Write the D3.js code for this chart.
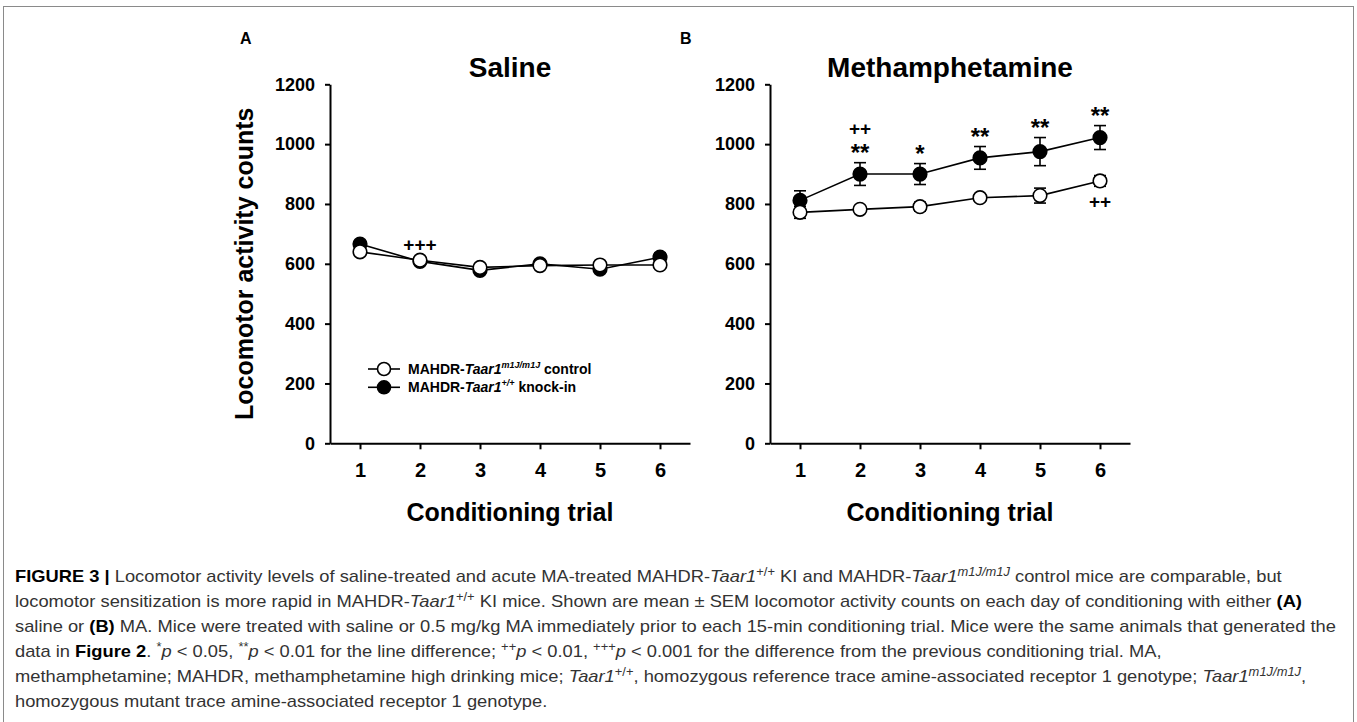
<!DOCTYPE html>
<html>
<head>
<meta charset="utf-8">
<script src="https://cdn.jsdelivr.net/npm/d3@7"></script>
<style>
  body { margin: 0; background: #fff; }
  svg { display: block; }
  text { font-family: Arial, "Liberation Sans", Helvetica, sans-serif; }
</style>
</head>
<body>
<div id="chart"></div>
<script>
// ---- data ----
const trials = [1, 2, 3, 4, 5, 6];
const yTicks = [0, 200, 400, 600, 800, 1000, 1200];

const salineControl = [640, 612, 588, 594, 596, 596];
const salineControlSem = [10, 8, 8, 8, 8, 8];
const salineKI = [666, 608, 578, 600, 582, 622];
const salineKISem = [8, 8, 10, 12, 10, 14];

const maControl = [772, 782, 791, 821, 828, 877];
const maControlSem = [20, 10, 15, 12, 25, 18];
const maKI = [812, 900, 900, 954, 975, 1022];
const maKISem = [32, 38, 35, 38, 47, 40];

// significance marks (stacked top to bottom) above the upper series, below the lower series
const salineMarksAbove = [[], ["+++"], [], [], [], []];
const salineMarksBelow = [[], [], [], [], [], []];
const maMarksAbove = [[], ["++", "**"], ["*"], ["**"], ["**"], ["**"]];
const maMarksBelow = [[], [], [], [], [], ["++"]];

const W = 1357, H = 722;
const svg = d3.select("#chart").append("svg")
    .attr("width", W)
    .attr("height", H);

svg.append("rect").attr("width", W).attr("height", H).attr("fill", "#fff");
// outer frame
svg.append("rect")
    .attr("x", 3.5).attr("y", 6.5)
    .attr("width", 1350).attr("height", 800)
    .attr("fill", "none").attr("stroke", "#8a8a8a").attr("stroke-width", 1);

const plotTop = 84.3, plotBottom = 443.3, plotW = 360;

const panels = [
    { left: 330, letter: "A", title: "Saline", ctrl: salineControl, ctrlSem: salineControlSem,
      ki: salineKI, kiSem: salineKISem, above: salineMarksAbove, below: salineMarksBelow, legend: true, yTitle: true },
    { left: 770, letter: "B", title: "Methamphetamine", ctrl: maControl, ctrlSem: maControlSem,
      ki: maKI, kiSem: maKISem, above: maMarksAbove, below: maMarksBelow, legend: false, yTitle: false }
];

const y = d3.scaleLinear().domain([0, 1200]).range([plotBottom, plotTop]);

panels.forEach(p => {
    const x = d3.scaleLinear().domain([0.5, 6.5]).range([p.left, p.left + plotW]);
    const g = svg.append("g");

    // panel letter
    g.append("text")
        .attr("x", p.left - 90).attr("y", 44)
        .style("font-size", "16px").style("font-weight", "bold")
        .text(p.letter);

    // title
    g.append("text")
        .attr("x", p.left + plotW / 2).attr("y", 77)
        .attr("text-anchor", "middle")
        .style("font-size", "28px").style("font-weight", "bold")
        .text(p.title);

    // y axis
    const ya = g.append("g")
        .attr("transform", `translate(${p.left},0)`)
        .call(d3.axisLeft(y).tickValues(yTicks).tickFormat(d3.format("d"))
            .tickSize(5).tickPadding(10).tickSizeOuter(0));
    ya.selectAll("text")
        .style("font-size", "18px").style("font-weight", "bold").attr("fill", "#000");
    ya.attr("font-family", null).attr("font-size", null);

    // x axis
    const xa = g.append("g")
        .attr("transform", `translate(0,${plotBottom})`)
        .call(d3.axisBottom(x).tickValues(trials).tickFormat(d3.format("d"))
            .tickSize(6).tickPadding(14).tickSizeOuter(0));
    xa.selectAll("text")
        .style("font-size", "20px").style("font-weight", "bold").attr("fill", "#000");
    xa.attr("font-family", null).attr("font-size", null);

    [ya, xa].forEach(a => {
        a.select(".domain").attr("stroke", "#000").attr("stroke-width", 2);
        a.selectAll(".tick line").attr("stroke", "#000").attr("stroke-width", 2);
    });

    // x title
    g.append("text")
        .attr("x", p.left + plotW / 2).attr("y", 521)
        .attr("text-anchor", "middle")
        .style("font-size", "25px").style("font-weight", "bold")
        .text("Conditioning trial");

    if (p.yTitle) {
        g.append("text")
            .attr("transform", `translate(253,${(plotTop + plotBottom) / 2}) rotate(-90)`)
            .attr("text-anchor", "middle")
            .style("font-size", "25px").style("font-weight", "bold")
            .text("Locomotor activity counts");
    }

    const line = d3.line().x((d, i) => x(trials[i])).y(d => y(d));

    const series = [
        { vals: p.ki, sem: p.kiSem, fill: "#000" },
        { vals: p.ctrl, sem: p.ctrlSem, fill: "#fff" }
    ];

    // lines
    series.forEach(s => {
        g.append("path")
            .datum(s.vals)
            .attr("d", line)
            .attr("fill", "none")
            .attr("stroke", "#000")
            .attr("stroke-width", 1.6);
    });

    // error bars + markers
    series.forEach(s => {
        const eb = g.append("g");
        s.vals.forEach((v, i) => {
            const cx = x(trials[i]);
            const lo = y(v - s.sem[i]), hi = y(v + s.sem[i]);
            eb.append("line").attr("x1", cx).attr("x2", cx).attr("y1", lo).attr("y2", hi)
                .attr("stroke", "#000").attr("stroke-width", 1.6);
            [lo, hi].forEach(yy => eb.append("line")
                .attr("x1", cx - 6).attr("x2", cx + 6).attr("y1", yy).attr("y2", yy)
                .attr("stroke", "#000").attr("stroke-width", 1.6));
        });
        g.append("g").selectAll("circle")
            .data(s.vals)
            .enter()
            .append("circle")
            .attr("cx", (d, i) => x(trials[i]))
            .attr("cy", d => y(d))
            .attr("r", 6.8)
            .attr("fill", s.fill)
            .attr("stroke", "#000")
            .attr("stroke-width", 1.6);
    });

    // significance marks
    const markG = g.append("g").style("font-weight", "bold");
    trials.forEach((t, i) => {
        const cx = x(t);
        const tops = [p.ki[i] + p.kiSem[i], p.ctrl[i] + p.ctrlSem[i]];
        const bots = [p.ki[i] - p.kiSem[i], p.ctrl[i] - p.ctrlSem[i]];
        let cursor = y(d3.max(tops)) - 15;   // visual centre of the lowest mark above
        p.above[i].slice().reverse().forEach(m => {
            const isStar = m.includes("*");
            const fs = isStar ? 24 : 19;
            const off = isStar ? 0.57 * fs : 0.41 * fs;
            markG.append("text")
                .attr("x", cx).attr("y", cursor + off)
                .attr("text-anchor", "middle")
                .style("font-size", fs + "px")
                .text(m);
            cursor -= 20;
        });
        let cur2 = y(d3.min(bots)) + 14;
        p.below[i].forEach(m => {
            const fs = 19;
            markG.append("text")
                .attr("x", cx).attr("y", cur2 + 0.41 * fs)
                .attr("text-anchor", "middle")
                .style("font-size", fs + "px")
                .text(m);
            cur2 += 20;
        });
    });

    if (p.legend) {
        const lg = g.append("g").attr("transform", "translate(368,0)");
        const items = [
            { fill: "#fff", sup: "m1J/m1J", rest: " control", y: 369 },
            { fill: "#000", sup: "+/+", rest: " knock-in", y: 387.3 }
        ];
        items.forEach(it => {
            lg.append("line").attr("x1", 0).attr("x2", 32).attr("y1", it.y).attr("y2", it.y)
                .attr("stroke", "#000").attr("stroke-width", 1.6);
            lg.append("circle").attr("cx", 16).attr("cy", it.y).attr("r", 6.5)
                .attr("fill", it.fill).attr("stroke", "#000").attr("stroke-width", 1.6);
            const t = lg.append("text").attr("x", 40).attr("y", it.y + 5)
                .style("font-size", "14px").style("font-weight", "bold");
            t.append("tspan").text("MAHDR-");
            t.append("tspan").style("font-style", "italic").text("Taar1");
            t.append("tspan").attr("dy", -6).style("font-size", "9px").style("font-style", "italic").text(it.sup);
            t.append("tspan").attr("dy", 6).text(it.rest);
        });
    }
});

// ---- caption ----
const captionLines = [
    [["FIGURE 3 |", "b"], [" Locomotor activity levels of saline-treated and acute MA-treated MAHDR-", ""], ["Taar1", "i"], ["+/+", "sup"],
     [" KI and MAHDR-", ""], ["Taar1", "i"], ["m1J/m1J", "supi"], [" control mice are comparable, but", ""]],
    [["locomotor sensitization is more rapid in MAHDR-", ""], ["Taar1", "i"], ["+/+", "sup"],
     [" KI mice. Shown are mean \u00b1 SEM locomotor activity counts on each day of conditioning with either ", ""], ["(A)", "b"]],
    [["saline or ", ""], ["(B)", "b"], [" MA. Mice were treated with saline or 0.5 mg/kg MA immediately prior to each 15-min conditioning trial. Mice were the same animals that generated the", ""]],
    [["data in ", ""], ["Figure 2", "b"], [". ", ""], ["*", "sup"], ["p", "i"], [" < 0.05, ", ""], ["**", "sup"], ["p", "i"], [" < 0.01 for the line difference; ", ""],
     ["++", "sup"], ["p", "i"], [" < 0.01, ", ""], ["+++", "sup"], ["p", "i"], [" < 0.001 for the difference from the previous conditioning trial. MA,", ""]],
    [["methamphetamine; MAHDR, methamphetamine high drinking mice; ", ""], ["Taar1", "i"], ["+/+", "sup"],
     [", homozygous reference trace amine-associated receptor 1 genotype; ", ""], ["Taar1", "i"], ["m1J/m1J", "supi"], [",", ""]],
    [["homozygous mutant trace amine-associated receptor 1 genotype.", ""]]
];

const cap = svg.append("g").attr("fill", "#333");
const capNodes = captionLines.map((segs, li) => {
    const t = cap.append("text")
        .attr("x", 15).attr("y", 582 + li * 25)
        .style("font-size", "17px");
    let raised = false;
    segs.forEach(([str, st]) => {
        const ts = t.append("tspan").text(str);
        const isSup = st === "sup" || st === "supi";
        if (isSup && !raised) { ts.attr("dy", -6); raised = true; }
        else if (!isSup && raised) { ts.attr("dy", 6); raised = false; }
        if (isSup) ts.style("font-size", "12px");
        if (st === "b") ts.style("font-weight", "bold").attr("fill", "#000");
        if (st === "i" || st === "supi") ts.style("font-style", "italic");
    });
    return t;
});
// the caption face is condensed: squeeze all lines by one common factor (line 3 spans the full width)
const squeeze = 1321 / capNodes[2].node().getComputedTextLength();
capNodes.forEach(t => {
    const w = t.node().getComputedTextLength();
    t.attr("textLength", w * squeeze).attr("lengthAdjust", "spacingAndGlyphs");
});
</script>
</body>
</html>
